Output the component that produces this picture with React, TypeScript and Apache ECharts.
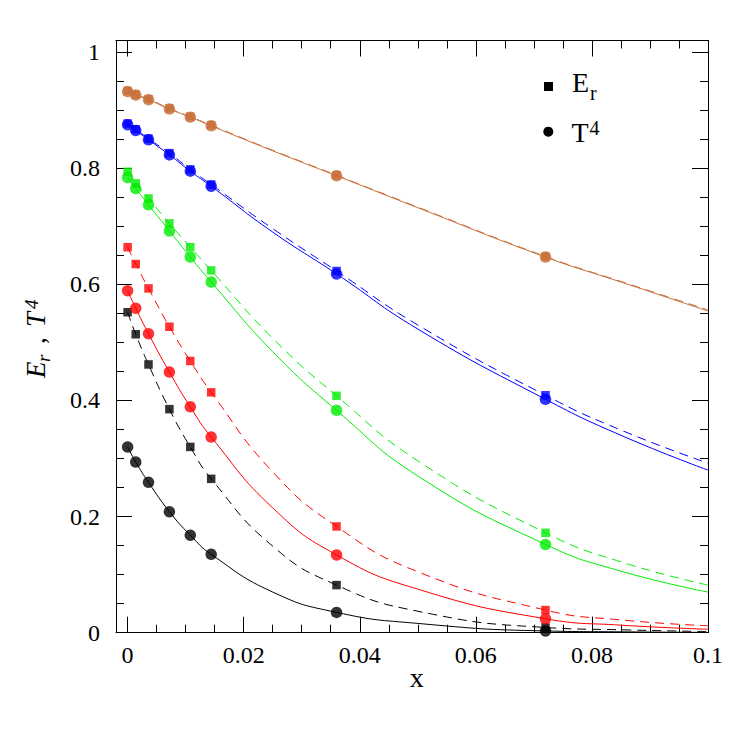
import React, { useEffect, useRef } from "react";
import * as echarts from "echarts";

// ---------- data ----------
const X_MARK = [0, 0.0014, 0.0036, 0.0072, 0.0108, 0.0144, 0.036, 0.072];
const X_CURVE = [0, 0.0014, 0.0036, 0.0072, 0.0108, 0.0144, 0.025, 0.036, 0.05, 0.072, 0.085, 0.1];

const BROWN_T4 = [0.932, 0.926, 0.918, 0.902, 0.888, 0.873, 0.787, 0.647];
const BROWN_ER = [0.933, 0.927, 0.919, 0.903, 0.889, 0.874, 0.788, 0.648];
const BROWN_T4_CURVE = [0.932, 0.926, 0.918, 0.902, 0.888, 0.873, 0.83, 0.787, 0.732, 0.647, 0.604, 0.554];
const BROWN_ER_CURVE = [0.933, 0.927, 0.919, 0.903, 0.889, 0.874, 0.831, 0.788, 0.733, 0.648, 0.605, 0.556];

const BLUE_T4 = [0.875, 0.865, 0.849, 0.823, 0.795, 0.769, 0.618, 0.402];
const BLUE_ER = [0.877, 0.867, 0.851, 0.826, 0.798, 0.772, 0.623, 0.409];
const BLUE_T4_CURVE = [0.875, 0.865, 0.849, 0.823, 0.795, 0.769, 0.69, 0.618, 0.523, 0.402, 0.34, 0.28];
const BLUE_ER_CURVE = [0.877, 0.867, 0.851, 0.826, 0.798, 0.772, 0.696, 0.623, 0.53, 0.409, 0.349, 0.292];

const GREEN_T4 = [0.784, 0.765, 0.737, 0.692, 0.647, 0.604, 0.383, 0.152];
const GREEN_ER = [0.794, 0.774, 0.748, 0.705, 0.664, 0.624, 0.408, 0.172];
const GREEN_T4_CURVE = [0.784, 0.765, 0.737, 0.692, 0.647, 0.604, 0.484, 0.383, 0.27, 0.152, 0.106, 0.07];
const GREEN_ER_CURVE = [0.794, 0.774, 0.748, 0.705, 0.664, 0.624, 0.507, 0.408, 0.296, 0.172, 0.122, 0.082];

const RED_T4 = [0.589, 0.559, 0.515, 0.449, 0.389, 0.337, 0.134, 0.024];
const RED_ER = [0.664, 0.635, 0.593, 0.527, 0.468, 0.414, 0.183, 0.039];
const RED_T4_CURVE = [0.589, 0.559, 0.515, 0.449, 0.389, 0.337, 0.215, 0.134, 0.075, 0.024, 0.013, 0.006];
const RED_ER_CURVE = [0.664, 0.635, 0.593, 0.527, 0.468, 0.414, 0.277, 0.183, 0.105, 0.039, 0.022, 0.012];

const BLACK_T4 = [0.32, 0.294, 0.259, 0.2085, 0.168, 0.135, 0.035, 0.003];
const BLACK_ER = [0.552, 0.514, 0.462, 0.385, 0.32, 0.265, 0.082, 0.009];
const BLACK_T4_CURVE = [0.32, 0.294, 0.259, 0.2085, 0.168, 0.135, 0.07, 0.035, 0.016, 0.003, 0.0015, 0.0005];
const BLACK_ER_CURVE = [0.552, 0.514, 0.462, 0.385, 0.32, 0.265, 0.149, 0.082, 0.037, 0.009, 0.005, 0.002];

const GROUPS = [
  { color: "#c8703a", t4: BROWN_T4, er: BROWN_ER, t4c: BROWN_T4_CURVE, erc: BROWN_ER_CURVE },
  { color: "#0000ff", t4: BLUE_T4, er: BLUE_ER, t4c: BLUE_T4_CURVE, erc: BLUE_ER_CURVE },
  { color: "#00ee00", t4: GREEN_T4, er: GREEN_ER, t4c: GREEN_T4_CURVE, erc: GREEN_ER_CURVE },
  { color: "#ff0000", t4: RED_T4, er: RED_ER, t4c: RED_T4_CURVE, erc: RED_ER_CURVE },
  { color: "#000000", t4: BLACK_T4, er: BLACK_ER, t4c: BLACK_T4_CURVE, erc: BLACK_ER_CURVE },
];

const X_MIN = -0.002;
const X_MAX = 0.1;
const Y_MIN = 0;
const Y_MAX = 1.02;

const SERIF = '"Liberation Serif", "DejaVu Serif", serif';

const pairs = (xs: number[], ys: number[]) => xs.map((x, i) => [x, ys[i]]);

function xAxisDef(position: "bottom" | "top", major: boolean) {
  return {
    type: "value",
    position,
    min: X_MIN,
    max: X_MAX,
    splitNumber: major ? 5 : 20,
    minInterval: major ? 0.02 : 0.005,
    maxInterval: major ? 0.02 : 0.005,
    axisLine: { show: major, onZero: false, lineStyle: { color: "#000", width: 1 } },
    axisTick: { show: true, inside: true, length: major ? 16 : 8, lineStyle: { color: "#000", width: 1 } },
    axisLabel: {
      show: major && position === "bottom",
      margin: 10,
      fontSize: 24,
      fontFamily: SERIF,
      color: "#000",
      formatter: (v: number) => (v < -1e-9 ? "" : String(parseFloat(v.toFixed(4)))),
    },
    splitLine: { show: false },
  };
}

function yAxisDef(position: "left" | "right", major: boolean) {
  return {
    type: "value",
    position,
    min: Y_MIN,
    max: Y_MAX,
    interval: major ? 0.2 : 0.05,
    axisLine: { show: major, onZero: false, lineStyle: { color: "#000", width: 1 } },
    axisTick: { show: true, inside: true, length: major ? 16 : 8, lineStyle: { color: "#000", width: 1 } },
    axisLabel: {
      show: major && position === "left",
      margin: 16,
      fontSize: 24,
      fontFamily: SERIF,
      color: "#000",
      formatter: (v: number) => (v > 1.0001 ? "" : String(parseFloat(v.toFixed(4)))),
    },
    splitLine: { show: false },
  };
}

function txt(text: string, x: number, y: number, size: number, italic: boolean, rotation = 0, align = "left") {
  return {
    type: "text",
    x,
    y,
    rotation,
    z: 100,
    style: {
      text,
      x: 0,
      y: 0,
      fill: "#000",
      fontSize: size,
      fontFamily: SERIF,
      fontStyle: italic ? "italic" : "normal",
      align,
      verticalAlign: "middle",
    },
  };
}

function buildOption() {
  const lines: any[] = [];
  const squares: any[] = [];
  const circles: any[] = [];
  GROUPS.forEach((g) => {
    lines.push({
      type: "line",
      data: pairs(X_CURVE, g.erc),
      smooth: 0.5,
      showSymbol: false,
      symbol: "none",
      lineStyle: { color: g.color, width: 1, type: [9, 6] },
      z: 2,
    });
    lines.push({
      type: "line",
      data: pairs(X_CURVE, g.t4c),
      smooth: 0.5,
      showSymbol: false,
      symbol: "none",
      lineStyle: { color: g.color, width: 1, type: "solid" },
      z: 2,
    });
    squares.push({
      type: "scatter",
      data: pairs(X_MARK, g.er),
      symbol: "rect",
      symbolSize: 8.5,
      itemStyle: { color: g.color },
      z: 3,
    });
    circles.push({
      type: "scatter",
      data: pairs(X_MARK, g.t4),
      symbol: "circle",
      symbolSize: 11.5,
      itemStyle: { color: g.color },
      z: 4,
    });
  });

  const rot = Math.PI / 2;
  const graphic = [
    // legend
    { type: "rect", z: 100, shape: { x: 544, y: 82, width: 9, height: 9 }, style: { fill: "#000" } },
    { type: "circle", z: 100, shape: { cx: 548.3, cy: 131.7, r: 5 }, style: { fill: "#000" } },
    txt("E", 572, 82.3, 28, false),
    txt("r", 590, 93.3, 20, false),
    txt("T", 571.5, 132.3, 28, false),
    txt("4", 589.5, 128.3, 20, false),
    // x title
    txt("x", 416.7, 677.6, 28, false, 0, "center"),
    // y title (rotated)
    txt("E", 35.9, 378, 27, true, rot),
    txt("r", 43.5, 362, 19, true, rot),
    txt(",", 35.9, 344, 27, false, rot),
    txt("T", 35.9, 327, 27, true, rot),
    txt("4", 31.6, 309, 19, true, rot),
  ];

  return {
    animation: false,
    backgroundColor: "#ffffff",
    grid: {
      left: 116,
      right: 39,
      top: 40.5,
      bottom: 114.3,
      containLabel: false,
      outerBoundsMode: "none",
    },
    xAxis: [xAxisDef("bottom", true), xAxisDef("bottom", false), xAxisDef("top", true), xAxisDef("top", false)],
    yAxis: [yAxisDef("left", true), yAxisDef("left", false), yAxisDef("right", true), yAxisDef("right", false)],
    series: [...lines, ...squares, ...circles],
    graphic,
  };
}

export default function App() {
  const ref = useRef<HTMLDivElement>(null);
  useEffect(() => {
    if (!ref.current) return;
    const chart = echarts.init(ref.current, null, { renderer: "svg" });
    chart.setOption(buildOption() as any);
    return () => chart.dispose();
  }, []);
  return (
    <div
      ref={ref}
      style={{ position: "absolute", left: 0, top: 0, width: 747, height: 747, background: "#fff" }}
    />
  );
}
